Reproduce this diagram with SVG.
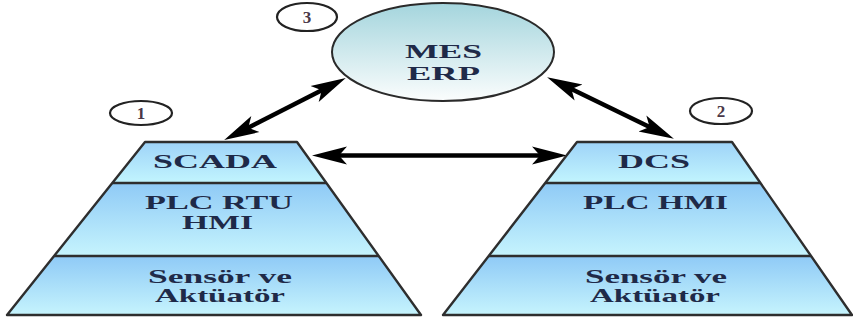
<svg xmlns="http://www.w3.org/2000/svg" width="853" height="322" viewBox="0 0 853 322">
  <defs>
    <linearGradient id="band" x1="0" y1="0" x2="0" y2="1">
      <stop offset="0" stop-color="#8fcaf6"/>
      <stop offset="1" stop-color="#c6f4fd"/>
    </linearGradient>
    <linearGradient id="bandTop" x1="0" y1="0" x2="0" y2="1">
      <stop offset="0" stop-color="#9ed3f8"/>
      <stop offset="1" stop-color="#c2f5fe"/>
    </linearGradient>
    <linearGradient id="oval" x1="0" y1="0" x2="0" y2="1">
      <stop offset="0" stop-color="#a4d5dd"/>
      <stop offset="1" stop-color="#fbfdfd"/>
    </linearGradient>
    <marker id="head" markerUnits="userSpaceOnUse" markerWidth="40" markerHeight="24"
            viewBox="0 -12 40 24" refX="24" refY="0" orient="auto-start-reverse">
      <path d="M0,-9 L35,0 L0,9 L8,0 Z" fill="#000"/>
    </marker>
    <style>
      .edge { fill: none; stroke: #2e2e2e; stroke-width: 2.4; stroke-linejoin: round; }
      .sep { stroke: #2e2e2e; stroke-width: 2.4; }
      .lbl { font-family: "Liberation Serif", "Times New Roman", serif; font-weight: bold; font-size: 19px; fill: #1f2a48; text-anchor: middle; }
      .sm { font-size: 18px; }
      .num { font-family: "Liberation Serif", "Times New Roman", serif; font-weight: bold; font-size: 17px; fill: #4a3848; text-anchor: middle; }
      .tag { fill: #fff; stroke: #222; stroke-width: 2.2; }
      .link { fill: none; stroke: #000; stroke-width: 4.5; marker-start: url(#head); marker-end: url(#head); }
    </style>
  </defs>

  <!-- Connectors -->
  <g id="connectors">
    <line class="link" x1="336" y1="83" x2="234" y2="135"/>
    <line class="link" x1="557" y1="82" x2="664" y2="134"/>
    <line class="link" x1="323" y1="155.5" x2="556" y2="155.5"/>
  </g>

  <!-- Level 3: MES / ERP -->
  <g id="mes-erp">
    <ellipse cx="443" cy="52" rx="111" ry="49" fill="url(#oval)" stroke="#2a2a2a" stroke-width="2"/>
    <text class="lbl" x="443.5" y="58" textLength="77" lengthAdjust="spacingAndGlyphs">MES</text>
    <text class="lbl" x="443.5" y="80" textLength="73" lengthAdjust="spacingAndGlyphs">ERP</text>
  </g>

  <!-- SCADA pyramid -->
  <g id="scada">
    <polygon points="145,142 297,142 326.4,183 112.3,183" fill="url(#bandTop)"/>
    <polygon points="112.3,183 326.4,183 378.7,256 54.1,256" fill="url(#band)"/>
    <polygon points="54.1,256 378.7,256 421,315 7,315" fill="url(#band)"/>
    <line class="sep" x1="112.3" y1="183" x2="326.4" y2="183"/>
    <line class="sep" x1="54.1" y1="256" x2="378.7" y2="256"/>
    <polygon class="edge" points="145,142 297,142 421,315 7,315"/>
    <text class="lbl" x="215" y="168" textLength="124" lengthAdjust="spacingAndGlyphs">SCADA</text>
    <text class="lbl sm" x="219" y="209" textLength="148" lengthAdjust="spacingAndGlyphs">PLC RTU</text>
    <text class="lbl sm" x="217.5" y="229" textLength="71" lengthAdjust="spacingAndGlyphs">HMI</text>
    <text class="lbl" x="220" y="283" textLength="144" lengthAdjust="spacingAndGlyphs">Sensör ve</text>
    <text class="lbl" x="220" y="302" textLength="130" lengthAdjust="spacingAndGlyphs">Aktüatör</text>
  </g>

  <!-- DCS pyramid -->
  <g id="dcs">
    <polygon points="577,142 732,142 760.4,183 545.2,183" fill="url(#bandTop)"/>
    <polygon points="545.2,183 760.4,183 811,256 488.7,256" fill="url(#band)"/>
    <polygon points="488.7,256 811,256 852,315 443,315" fill="url(#band)"/>
    <line class="sep" x1="545.2" y1="183" x2="760.4" y2="183"/>
    <line class="sep" x1="488.7" y1="256" x2="811" y2="256"/>
    <polygon class="edge" points="577,142 732,142 852,315 443,315"/>
    <text class="lbl" x="654" y="168" textLength="72" lengthAdjust="spacingAndGlyphs">DCS</text>
    <text class="lbl" x="655.5" y="209" textLength="145" lengthAdjust="spacingAndGlyphs">PLC HMI</text>
    <text class="lbl" x="656" y="283" textLength="142" lengthAdjust="spacingAndGlyphs">Sensör ve</text>
    <text class="lbl" x="655" y="302" textLength="130" lengthAdjust="spacingAndGlyphs">Aktüatör</text>
  </g>

  <!-- Number tags -->
  <g id="tag-1">
    <ellipse class="tag" cx="141" cy="113" rx="31" ry="12"/>
    <text class="num" x="141" y="119">1</text>
  </g>
  <g id="tag-2">
    <ellipse class="tag" cx="721" cy="111" rx="31" ry="13"/>
    <text class="num" x="721" y="117">2</text>
  </g>
  <g id="tag-3">
    <ellipse class="tag" cx="307" cy="17" rx="30" ry="14"/>
    <text class="num" x="307" y="23">3</text>
  </g>
</svg>
